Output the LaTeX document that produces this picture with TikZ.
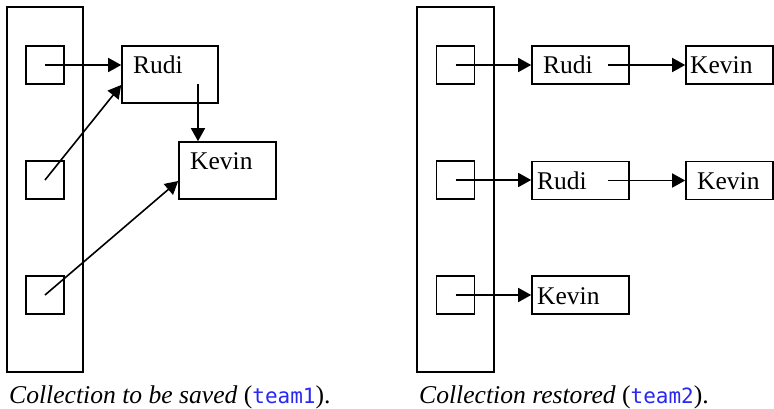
\documentclass[tikz,border=0pt]{standalone}
\usepackage{fontspec}
\setmainfont{Liberation Serif}
\newfontfamily\codefont{DejaVu Sans Mono}
\usetikzlibrary{arrows.meta,calc}
\definecolor{codeblue}{RGB}{40,40,240}
\begin{document}
\begin{tikzpicture}[x=1pt,y=-1pt,
  framebox/.style={draw,line width=1.6pt,inner sep=0pt,minimum width=#1},
  framebox/.default=97pt,
  holder/.style={framebox=76pt,minimum height=365pt},
  slotbox/.style={framebox=38pt,minimum height=38pt},
  objbox/.style={framebox=#1,minimum height=57pt},
  itembox/.style={framebox=#1,minimum height=38pt},
  lbl/.style={anchor=base west,inner sep=0pt,font=\fontsize{25.5}{30}\selectfont},
  captext/.style={anchor=base west,inner sep=0pt,font=\fontsize{25.6}{30}\selectfont},
  ptr/.style={-{Triangle[length=13pt,width=14pt]},line width=1.6pt}
]
\useasboundingbox (0,0) rectangle (774,408);

% ---- team1: shared references ----
\node[holder] (tallL) at (45,189.5) {};
\node[slotbox] (sqL1) at (45,65) {};
\node[slotbox] (sqL2) at (45,180) {};
\node[slotbox] (sqL3) at (45,295) {};
\node[objbox=96pt] (rudiL) at (170,74.5) {};
\node[objbox=97pt] (kevinL) at (227.5,170.5) {};
\node[lbl] (tRudiL) at (133,73) {Rudi};
\node[lbl] (tKevinL) at (190,169) {Kevin};
\coordinate (linkL) at ([xshift=28pt,yshift=-9.5pt]rudiL.center);

\draw[ptr] (sqL1.center) -- (sqL1.center -| rudiL.west);
\draw[ptr] (sqL2.center) -- ([yshift=-10.5pt]rudiL.west);
\draw[ptr] (linkL) -- (linkL |- kevinL.north);
\draw[ptr] (sqL3.center) -- ([yshift=-10.5pt]kevinL.west);

% ---- team2: restored copies ----
\node[holder,minimum width=77pt] (tallR) at (455.5,189.5) {};
\node[slotbox] (sqR1) at (455.5,65) {};
\node[slotbox] (sqR2) at (455.5,180) {};
\node[slotbox] (sqR3) at (455.5,295) {};
\node[itembox=97pt] (rudiR1) at (580.5,65) {};
\node[itembox=87pt] (kevinR1) at (729.5,65) {};
\node[itembox=97pt] (rudiR2) at (580.5,180.5) {};
\node[itembox=87pt] (kevinR2) at (729.5,180.5) {};
\node[itembox=97pt] (kevinR3) at (580.5,295) {};
\node[lbl] (tRudiR1) at (543,73) {Rudi};
\node[lbl] (tKevinR1) at (690,73) {Kevin};
\node[lbl] (tRudiR2) at (537,189) {Rudi};
\node[lbl] (tKevinR2) at (697,189) {Kevin};
\node[lbl] (tKevinR3) at (537,304) {Kevin};
\coordinate (linkR1) at ([xshift=27.5pt]rudiR1.center);
\coordinate (linkR2) at ([xshift=27.5pt]rudiR2.center);

\draw[ptr] (sqR1.center) -- (sqR1.center -| rudiR1.west);
\draw[ptr] (linkR1) -- (kevinR1.west);
\draw[ptr] (sqR2.center) -- (sqR2.center -| rudiR2.west);
\draw[ptr] (linkR2) -- (linkR2 -| kevinR2.west);
\draw[ptr] (sqR3.center) -- (kevinR3.west);

% ---- captions ----
\node[captext] (capL) at (9,403) {\textit{Collection to be saved} (\textcolor{codeblue}{\codefont\fontsize{21}{24}\selectfont team1}).};
\node[captext] (capR) at (419,403) {\textit{Collection restored} (\textcolor{codeblue}{\codefont\fontsize{21}{24}\selectfont team2}).};
\end{tikzpicture}
\end{document}
